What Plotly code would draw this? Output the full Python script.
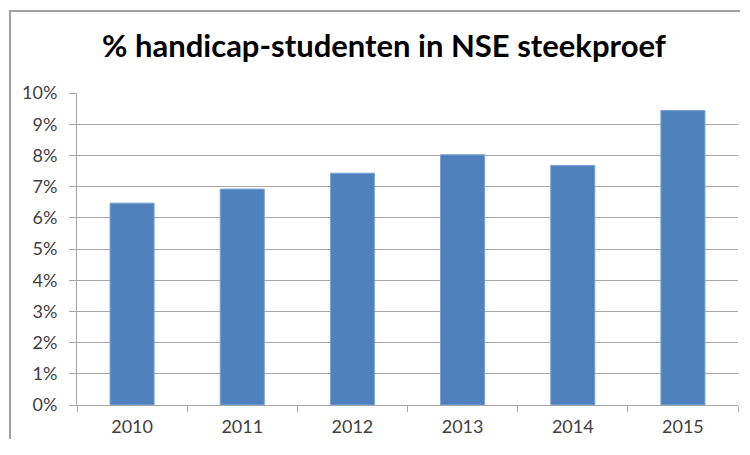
import plotly.graph_objects as go

years = ["2010", "2011", "2012", "2013", "2014", "2015"]
values = [6.47, 6.92, 7.43, 8.02, 7.68, 9.44]
y_ticks = [0, 1, 2, 3, 4, 5, 6, 7, 8, 9, 10]
y_labels = [f"{v}%" for v in y_ticks]
title_text = "% handicap-studenten in NSE steekproef"

fig = go.Figure()
fig.add_trace(go.Bar(
    x=years, y=values,
    marker=dict(color="#4f81bd", line=dict(color="#7aa2d4", width=1)),
    width=0.4,
))

# page body has an 8px margin on every side; keep the figure inside the viewport
OFF = 8
W, H = 750 - 2 * OFF - 2, 455 - 2 * OFF - 8
L, T = 77 - OFF, 93 - OFF
R = (OFF + W) - 738
B = (OFF + H) - 408
pw = W - L - R
ph = H - T - B

fig.update_layout(
    width=W, height=H,
    margin=dict(l=L, r=R, t=T, b=B),
    paper_bgcolor="white", plot_bgcolor="white",
    showlegend=False,
    title=dict(text=title_text, x=(384 - OFF) / W, xanchor="center",
               y=1 - (46 - OFF) / H, yanchor="middle",
               font=dict(family="Lato", size=31, color="#000000", weight="bold")),
    font=dict(family="Lato", size=18, color="#404040"),
    bargap=0.6,
    xaxis=dict(
        showline=True, linecolor="#a6a6a6", linewidth=1,
        ticks="outside", tickson="boundaries", ticklen=6, tickcolor="#a6a6a6",
        showgrid=False, ticklabelstandoff=5,
        tickfont=dict(family="Lato", size=18, color="#404040"),
    ),
    yaxis=dict(
        range=[0, 10], tickvals=y_ticks, ticktext=y_labels,
        showline=True, linecolor="#a6a6a6", linewidth=1,
        ticks="outside", ticklen=7, tickcolor="#a6a6a6",
        showgrid=True, gridcolor="#a6a6a6", gridwidth=1,
        zeroline=False, ticklabelstandoff=8,
        tickfont=dict(family="Lato", size=18, color="#404040"),
    ),
    # chart-frame border: only its left and top edges fall inside the figure
    annotations=[dict(
        text=" ", showarrow=False,
        xref="paper", yref="paper",
        x=(1 - L) / pw, y=(H - 1 - B) / ph,
        xanchor="left", yanchor="top",
        width=W + 60, height=H + 60,
        bordercolor="#a0a0a0", borderwidth=2, borderpad=0,
        bgcolor="rgba(0,0,0,0)",
    )],
)

fig.write_html("out.html", config={"displayModeBar": False})
